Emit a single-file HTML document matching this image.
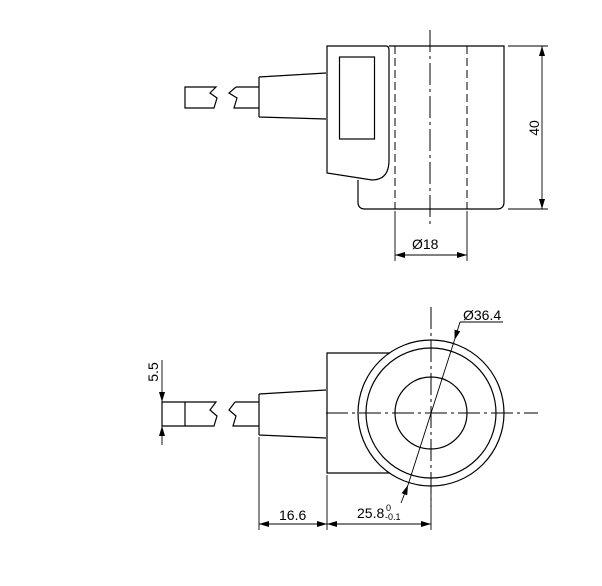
<!DOCTYPE html>
<html><head><style>html,body{margin:0;padding:0;background:#fff}</style></head><body>
<svg width="602" height="581" viewBox="0 0 602 581" xmlns="http://www.w3.org/2000/svg" font-family="Liberation Sans, sans-serif">
<defs>
<marker id="a" viewBox="0 0 10 6" refX="10" refY="3" markerWidth="10" markerHeight="6" markerUnits="userSpaceOnUse" orient="auto-start-reverse"><path d="M0,0 L10,3 L0,6 Z" fill="#000"/></marker>
</defs>
<g fill="none" stroke="#000" stroke-width="1.2">
<path d="M327,46 H386 Q389,46 389,50 V160 Q389,180 372,180 L327,173 Z"/>
<rect x="339.5" y="57" width="35" height="82"/>
<path d="M389,46 H504 V202 Q504,209 497,209 H365 Q358,209 358,202 V180"/>
<path d="M259,77 L326,73 M259,77 V117 M259,117 L326,119"/>
<path d="M216,87 H185 V108 H214 L217,98 L210,93 Z" />
<path d="M236,87 L229,93 L237,98 L234,108 H259 M236,87 H259"/>
<g stroke-dasharray="8,4" stroke-width="1">
<line x1="395" y1="46" x2="395" y2="209"/><line x1="467" y1="46" x2="467" y2="209"/>
</g>
<line x1="430" y1="30" x2="430" y2="226" stroke-width="1" stroke-dasharray="22,4,3,4"/>
<g stroke-width="0.9">
<line x1="508" y1="46" x2="548" y2="46"/><line x1="508" y1="209" x2="548" y2="209"/>
<line x1="542" y1="46" x2="542" y2="209" marker-start="url(#a)" marker-end="url(#a)"/>
<line x1="395" y1="211" x2="395" y2="261"/><line x1="467" y1="211" x2="467" y2="261"/>
<line x1="395" y1="255" x2="467" y2="255" marker-start="url(#a)" marker-end="url(#a)"/>
</g>
<circle cx="431" cy="413" r="73"/>
<circle cx="431" cy="413" r="65"/>
<circle cx="431" cy="413" r="36"/>
<path d="M390,353 H327 V473 H390"/>
<path d="M259,394 L326,390 M259,394 V435 M259,435 L326,438"/>
<path d="M216,402 H162 V426 H214 L217,416 L210,410 Z M185,402 V426"/>
<path d="M235,402 L229,410 L236,416 L233,426 H259 M235,402 H259"/>
<g stroke-width="1" stroke-dasharray="22,4,3,4">
<line x1="326" y1="413" x2="538" y2="413"/>
<line x1="431" y1="307" x2="431" y2="507"/>
</g>
<g stroke-width="0.9">
<line x1="460" y1="322" x2="503" y2="322"/>
<line x1="460" y1="322" x2="454.5" y2="340" marker-end="url(#a)"/>
<line x1="454.5" y1="340" x2="408" y2="485"/>
<line x1="401" y1="503" x2="408" y2="485" marker-end="url(#a)"/>
<line x1="162" y1="360" x2="162" y2="402" marker-end="url(#a)"/>
<line x1="162" y1="445" x2="162" y2="426" marker-end="url(#a)"/>
<line x1="259" y1="437" x2="259" y2="530"/><line x1="327" y1="475" x2="327" y2="530"/><line x1="431" y1="490" x2="431" y2="530"/>
<line x1="259" y1="524" x2="327" y2="524" marker-start="url(#a)" marker-end="url(#a)"/>
<line x1="327" y1="524" x2="431" y2="524" marker-start="url(#a)" marker-end="url(#a)"/>
</g>
</g>
<g font-size="14" fill="#000">
<text x="539" y="128" transform="rotate(-90 539 128)" text-anchor="middle">40</text>
<text x="412" y="249">Ø18</text>
<text x="463" y="320">Ø36.4</text>
<text x="158" y="372" transform="rotate(-90 158 372)" text-anchor="middle">5.5</text>
<text x="279" y="520">16.6</text>
<text x="357" y="518">25.8</text>
<text x="386" y="511" font-size="9">0</text>
<text x="385" y="520" font-size="9">-0.1</text>
</g>
</svg>
</body></html>
